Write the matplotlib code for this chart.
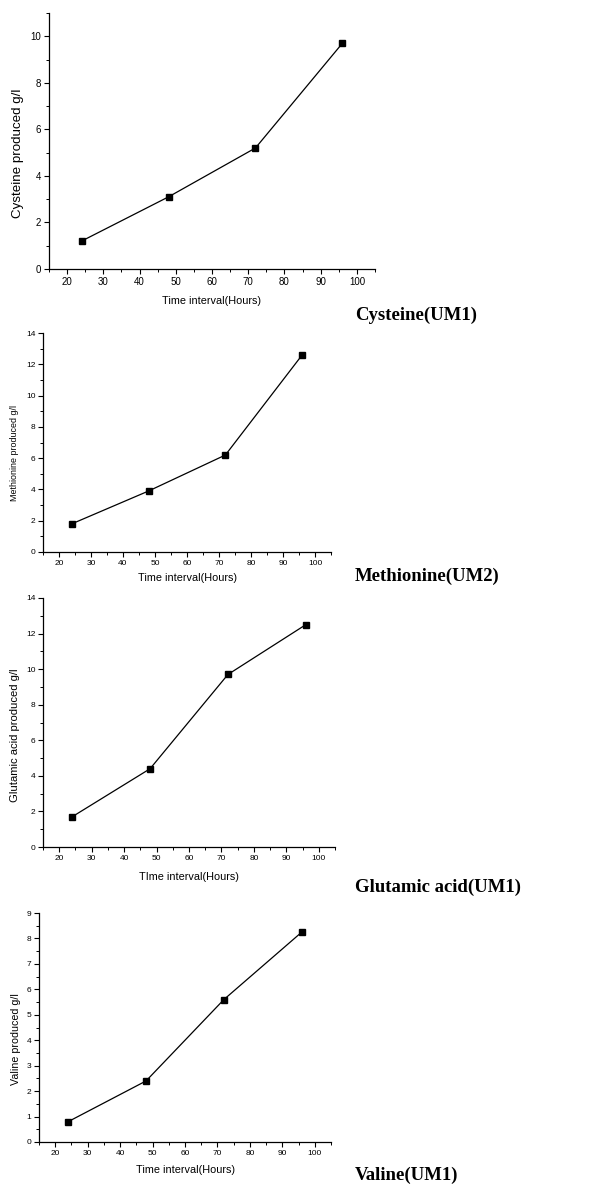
import numpy as np
import matplotlib
matplotlib.use("Agg")
import matplotlib.pyplot as plt
import matplotlib.ticker as ticker

# data
hours = [24, 48, 72, 96]
cysteine = [1.2, 3.1, 5.2, 9.7]
methionine = [1.8, 3.9, 6.2, 12.6]
glutamic = [1.7, 4.4, 9.7, 12.5]
valine = [0.8, 2.4, 5.6, 8.25]

ylabels = ["Cysteine produced g/l", "Methionine produced g/l",
           "Glutamic acid produced g/l", "Valine produced g/l"]
xlabels = ["Time interval(Hours)", "Time interval(Hours)",
           "TIme interval(Hours)", "Time interval(Hours)"]
names = ["Cysteine(UM1)", "Methionine(UM2)", "Glutamic acid(UM1)", "Valine(UM1)"]

W, H = 591, 1184
fig = plt.figure(figsize=(W / 100, H / 100), dpi=100)
plt.rcParams['font.family'] = ['Liberation Sans', 'DejaVu Sans']

# panel boxes in pixels: left, right, top, bottom
boxes = [(49, 375, 13, 269), (43, 331, 333, 552), (43, 335, 598, 847), (39, 331, 913, 1142)]
ylims = [11, 14, 14, 9]
ymajor = [2, 2, 2, 1]
yminor = [1, 1, 1, 0.5]
tick_fs = [7, 6, 6, 6]
ylab_fs = [9.6, 6.4, 8.1, 7.7]
xlab_fs = [7.8, 7.8, 7.8, 7.8]
xlab_y = [301, 578, 877, 1170]
ylab_x = [18, 15, 15, 16]
name_y = [315, 576, 887, 1175]

series = [cysteine, methionine, glutamic, valine]

for i in range(4):
    l, r, t, b = boxes[i]
    ax = fig.add_axes([l / W, 1 - b / H, (r - l) / W, (b - t) / H])
    ax.plot(hours, series[i], color='black', lw=0.9, marker='s', ms=4.5,
            markerfacecolor='black', markeredgecolor='black')
    ax.set_xlim(15, 105)
    ax.set_ylim(0, ylims[i])
    ax.spines['top'].set_visible(False)
    ax.spines['right'].set_visible(False)
    ax.spines['left'].set_linewidth(0.9)
    ax.spines['bottom'].set_linewidth(0.9)
    ax.xaxis.set_major_locator(ticker.MultipleLocator(10))
    ax.xaxis.set_minor_locator(ticker.MultipleLocator(5))
    ax.yaxis.set_major_locator(ticker.MultipleLocator(ymajor[i]))
    ax.yaxis.set_minor_locator(ticker.MultipleLocator(yminor[i]))
    ax.xaxis.set_major_formatter(ticker.FuncFormatter(lambda v, p: "" if v < 20 or v > 100 else "%d" % v))
    ax.tick_params(which='major', direction='out', length=3.5, width=0.8, labelsize=tick_fs[i], pad=2)
    ax.tick_params(which='minor', direction='out', length=2, width=0.7)

    ax.set_xlabel(xlabels[i], fontsize=xlab_fs[i])
    ax.xaxis.set_label_coords(0.5, (b - xlab_y[i]) / (b - t))
    ax.xaxis.label.set_va('center')
    ax.set_ylabel(ylabels[i], fontsize=ylab_fs[i])
    ax.yaxis.set_label_coords((ylab_x[i] - l) / (r - l), 0.45)
    ax.yaxis.label.set_va('center')

    fig.text(355 / W, 1 - name_y[i] / H, names[i], family='Liberation Serif',
             fontweight='bold', fontsize=13.5, ha='left', va='center')

fig.savefig("out.png", dpi=100)
